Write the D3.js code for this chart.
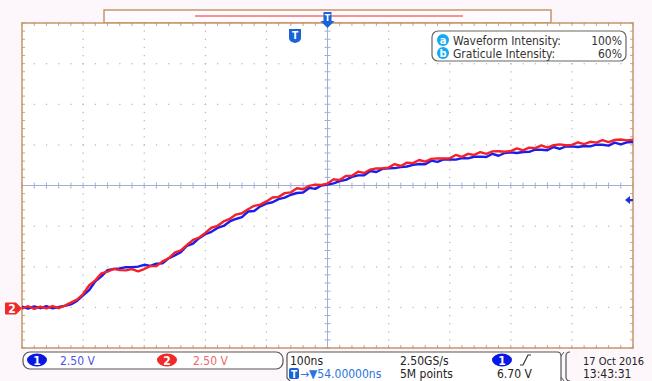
<!DOCTYPE html>
<html><head><meta charset="utf-8">
<script src="https://cdn.jsdelivr.net/npm/d3@7"></script>
<style>
html,body{margin:0;padding:0;background:#fdf6fa;}
svg{display:block;font-family:"DejaVu Sans Condensed","DejaVu Sans",sans-serif;}
</style></head><body>
<svg id="c" width="652" height="381"></svg>
<script>
// time axis (ns), 10 ns steps
const times = d3.range(-500, 501, 10);
// Channel 1 (blue) volts
const ch1 = [0.05,-0.07,0.06,-0.05,0.07,-0.06,0.02,0.09,0.18,0.40,
0.74,1.07,1.61,1.91,2.29,2.36,2.39,2.48,2.47,2.51,
2.62,2.55,2.69,2.71,3.02,3.20,3.40,3.79,3.93,4.26,
4.50,4.65,4.89,5.01,5.29,5.44,5.55,5.90,5.93,6.22,
6.38,6.47,6.66,6.75,6.93,7.04,7.07,7.35,7.29,7.50,
7.56,7.63,7.77,7.85,8.03,8.12,8.13,8.39,8.33,8.52,
8.56,8.57,8.63,8.67,8.77,8.82,8.81,9.03,8.95,9.10,
9.10,9.09,9.19,9.17,9.27,9.28,9.25,9.45,9.33,9.50,
9.54,9.50,9.56,9.57,9.71,9.70,9.67,9.87,9.75,9.90,
9.91,9.87,9.93,9.91,10.01,10.01,9.95,10.14,10.03,10.16,10.18];
// Channel 2 (red) volts
const ch2 = [-0.08,0.07,-0.09,0.05,-0.06,0.08,-0.05,0.11,0.29,0.48,
0.82,1.36,1.66,2.09,2.20,2.37,2.29,2.28,2.35,2.22,
2.36,2.54,2.54,2.83,3.02,3.37,3.51,3.84,4.15,4.30,
4.58,4.90,5.02,5.29,5.44,5.71,5.79,6.04,6.25,6.32,
6.52,6.76,6.80,7.03,7.08,7.33,7.27,7.48,7.55,7.54,
7.62,7.88,7.84,8.09,8.10,8.35,8.27,8.48,8.55,8.56,
8.60,8.82,8.70,8.91,8.88,9.07,8.97,9.14,9.17,9.16,
9.18,9.38,9.26,9.45,9.38,9.55,9.45,9.60,9.61,9.58,
9.62,9.78,9.66,9.83,9.80,9.97,9.83,9.98,10.03,9.98,
10.00,10.16,10.04,10.19,10.14,10.29,10.17,10.30,10.33,10.28,10.32];
// scope settings / labels
const chScale = ["2.50 V","2.50 V"];
const timebase = "100ns";
const trigPos = "54.00000ns";
const sampleRate = "2.50GS/s";
const recLen = "5M points";
const trigLevel = "6.70 V";
const dateLbl = "17 Oct 2016";
const timeLbl = "13:43:31";
const intensityLabels = ["Waveform Intensity:","Graticule Intensity:"];
const intensityVals = ["100%","60%"];
const intensityKeys = ["a","b"];

const svg = d3.select("#c");
const X0=22, X1=633, Y0=23, Y1=348;
const x = d3.scaleLinear().domain([-500,500]).range([X0,X1]);
const yDiv = d3.scaleLinear().domain([-4,4]).range([Y1,Y0]);
const yV = d3.scaleLinear().domain([-2.5,17.5]).range([Y1,Y0]); // 2.5 V/div, ground 3 div below centre

// top overview bar
svg.append("rect").attr("x",104).attr("y",10).attr("width",447).attr("height",13)
  .attr("fill","#fffafd").attr("stroke","#c4966c").attr("stroke-width",1.5);
svg.append("line").attr("x1",195).attr("x2",463).attr("y1",16).attr("y2",16)
  .attr("stroke","#f07070").attr("stroke-width",1.5);

// graticule
svg.append("rect").attr("x",X0).attr("y",Y0).attr("width",X1-X0).attr("height",Y1-Y0)
  .attr("fill","#ffffff");
const g = svg.append("g");
const xMinor = d3.range(0,51).map(i=>-500+i*20);
const yMinor = d3.range(0,41).map(i=>-4+i*0.2);
for (let k=-4;k<=4;k++){ if(k===0) continue;
  xMinor.forEach(t=>g.append("rect").attr("x",x(t)-0.5).attr("y",yDiv(k)-0.5).attr("width",1.2).attr("height",1.2).attr("fill","#b4b4b4"));
}
for (let k=-400;k<=400;k+=100){ if(k===0) continue;
  yMinor.forEach(d=>g.append("rect").attr("x",x(k)-0.5).attr("y",yDiv(d)-0.5).attr("width",1.2).attr("height",1.2).attr("fill","#b4b4b4"));
}
g.append("line").attr("x1",X0).attr("x2",X1).attr("y1",yDiv(0)).attr("y2",yDiv(0)).attr("stroke","#a3aed3").attr("stroke-width",1);
g.append("line").attr("x1",x(0)).attr("x2",x(0)).attr("y1",Y0).attr("y2",Y1).attr("stroke","#a3aed3").attr("stroke-width",1);
xMinor.forEach(t=>g.append("line").attr("x1",x(t)).attr("x2",x(t)).attr("y1",yDiv(0)-3).attr("y2",yDiv(0)+3).attr("stroke","#a3aed3"));
yMinor.forEach(d=>g.append("line").attr("x1",x(0)-3).attr("x2",x(0)+3).attr("y1",yDiv(d)).attr("y2",yDiv(d)).attr("stroke","#a3aed3"));
xMinor.forEach(t=>{
  g.append("line").attr("x1",x(t)).attr("x2",x(t)).attr("y1",Y0).attr("y2",Y0+3).attr("stroke","#c9a584");
  g.append("line").attr("x1",x(t)).attr("x2",x(t)).attr("y1",Y1).attr("y2",Y1-3).attr("stroke","#c9a584");
});
yMinor.forEach(d=>{
  g.append("line").attr("x1",X0).attr("x2",X0+3).attr("y1",yDiv(d)).attr("y2",yDiv(d)).attr("stroke","#c9a584");
  g.append("line").attr("x1",X1).attr("x2",X1-3).attr("y1",yDiv(d)).attr("y2",yDiv(d)).attr("stroke","#c9a584");
});
svg.append("rect").attr("x",X0).attr("y",Y0).attr("width",X1-X0).attr("height",Y1-Y0)
  .attr("fill","none").attr("stroke","#c4966c").attr("stroke-width",1.5);

// traces
const line = d3.line().x((d,i)=>x(times[i])).y(d=>yV(d));
svg.append("path").datum(ch1).attr("d",line).attr("fill","none").attr("stroke","#1a1ee8").attr("stroke-width",2.4).attr("stroke-linejoin","round");
svg.append("path").datum(ch2).attr("d",line).attr("fill","none").attr("stroke","#f4202a").attr("stroke-width",2.4).attr("stroke-linejoin","round");

// trigger marker at top
const tg = svg.append("g").attr("transform",`translate(${x(0)},0)`);
tg.append("path").attr("d","M-4,12 L4,12 L4,21 L7,21 L0,28 L-7,21 L-4,21 Z").attr("fill","#1a62d8");
tg.append("text").attr("x",0).attr("y",21).attr("text-anchor","middle").attr("fill","#fff").attr("font-size",9).attr("font-weight","bold").text("T");
const tb = svg.append("g").attr("transform","translate(295,35)");
tb.append("path").attr("d","M-6,-6 L6,-6 L6,3 Q6,7 0,8 Q-6,7 -6,3 Z").attr("fill","#1a62d8");
tb.append("text").attr("x",0).attr("y",4).attr("text-anchor","middle").attr("fill","#fff").attr("font-size",10).attr("font-weight","bold").text("T");

// ground marker for ch2
const gm = svg.append("g").attr("transform",`translate(0,${yV(0)+1})`);
gm.append("path").attr("d","M6,-6 L16,-6 L22,0 L16,6 L6,6 Q5,6 5,5 L5,-5 Q5,-6 6,-6 Z").attr("fill","#f02828");
gm.append("text").attr("x",12).attr("y",4.5).attr("text-anchor","middle").attr("fill","#fff").attr("font-size",12).attr("font-weight","bold").text("2");
svg.append("path").attr("d","M625,200 L630,196 L630,199 L633,199 L633,201 L630,201 L630,204 Z").attr("fill","#1a30e0");

// intensity legend
const lg = svg.append("g");
lg.append("rect").attr("x",432).attr("y",31).attr("width",194).attr("height",30).attr("rx",6)
  .attr("fill","#fff").attr("stroke","#666").attr("stroke-width",1.2);
intensityLabels.forEach((lbl,i)=>{
  const yy = 40+i*13;
  lg.append("circle").attr("cx",443).attr("cy",yy).attr("r",6).attr("fill","#12aaf0");
  lg.append("text").attr("x",443).attr("y",yy+3.5).attr("text-anchor","middle").attr("fill","#fff").attr("font-size",11).attr("font-weight","bold").text(intensityKeys[i]);
  lg.append("text").attr("x",453).attr("y",yy+4.5).attr("fill","#333").attr("font-size",12).text(lbl);
  lg.append("text").attr("x",622).attr("y",yy+4.5).attr("text-anchor","end").attr("fill","#333").attr("font-size",12).text(intensityVals[i]);
});

// bottom status
const bs = svg.append("g");
bs.append("rect").attr("x",23).attr("y",352).attr("width",260).attr("height",17).attr("rx",7)
  .attr("fill","#fff").attr("stroke","#555").attr("stroke-width",1.2);
bs.append("path").attr("d","M290,381 L287,378 L287,356 Q287,352 291,352 L557,352 Q561,352 561,356 L561,381")
  .attr("fill","#fff").attr("stroke","#555").attr("stroke-width",1.2);
bs.append("path").attr("d","M561,356 L564,352 M561,377 L564,381").attr("stroke","#555").attr("fill","none");
bs.append("path").attr("d","M570,352 Q566,352 566,356 L566,377 Q566,381 570,381").attr("stroke","#555").attr("fill","none").attr("stroke-width",1.2);

function badge(cx,cy,col,txt){
  bs.append("ellipse").attr("cx",cx).attr("cy",cy).attr("rx",10).attr("ry",6.5).attr("fill",col);
  bs.append("text").attr("x",cx).attr("y",cy+4.5).attr("text-anchor","middle").attr("fill","#fff").attr("font-size",12).attr("font-weight","bold").text(txt);
}
badge(37,360,"#0a18e6","1");
bs.append("text").attr("x",60).attr("y",364.5).attr("fill","#4a56e6").attr("font-size",12).text(chScale[0]);
badge(167,360,"#f02828","2");
bs.append("text").attr("x",193).attr("y",364.5).attr("fill","#f06868").attr("font-size",12).text(chScale[1]);

bs.append("text").attr("x",290).attr("y",364.5).attr("fill","#222").attr("font-size",12).text(timebase);
bs.append("rect").attr("x",289).attr("y",368).attr("width",10).attr("height",11).attr("rx",2).attr("fill","#1a62d8");
bs.append("text").attr("x",294).attr("y",377.5).attr("text-anchor","middle").attr("fill","#fff").attr("font-size",10).attr("font-weight","bold").text("T");
bs.append("text").attr("x",300).attr("y",377.5).attr("fill","#2a74e0").attr("font-size",12).text("\u2192\u25BC"+trigPos);

bs.append("text").attr("x",400).attr("y",364.5).attr("fill","#222").attr("font-size",12).text(sampleRate);
bs.append("text").attr("x",400).attr("y",377.5).attr("fill","#222").attr("font-size",12).text(recLen);
badge(502,360,"#0a18e6","1");
bs.append("path").attr("d","M520,365 L523,365 L528,355 L531,355").attr("stroke","#333").attr("fill","none").attr("stroke-width",1.2);
bs.append("text").attr("x",497).attr("y",377.5).attr("fill","#222").attr("font-size",12).text(trigLevel);
bs.append("text").attr("x",583).attr("y",364.5).attr("fill","#222").attr("font-size",11).text(dateLbl);
bs.append("text").attr("x",583).attr("y",377.5).attr("fill","#222").attr("font-size",12).text(timeLbl);
</script></body></html>
